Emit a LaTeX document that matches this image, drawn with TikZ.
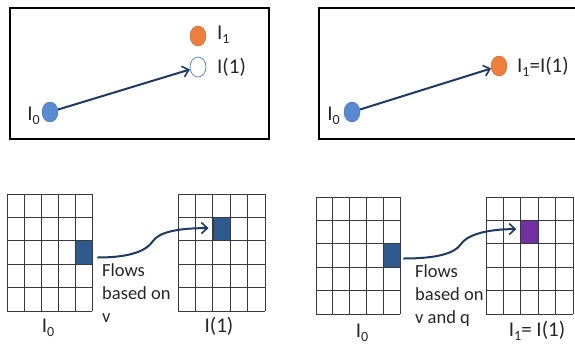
\documentclass[tikz,border=0pt]{standalone}
\usepackage{fontspec}
\setmainfont{Carlito}
\usetikzlibrary{shapes.geometric,arrows.meta,calc}
\definecolor{navy}{HTML}{1F3A60}
\definecolor{dotblue}{HTML}{5A8AD2}
\definecolor{dotorange}{HTML}{EE7E3C}
\definecolor{cellblue}{HTML}{2E5A8E}
\definecolor{cellpurple}{HTML}{7030A0}
\definecolor{gridgray}{HTML}{3A3A3A}
\definecolor{txt}{HTML}{262626}
\newcommand{\mysub}[1]{\raisebox{-4pt}{\fontsize{14}{14}\selectfont #1}}
\tikzset{
  frame/.style={draw=black,line width=2pt},
  bluedot/.style={ellipse,minimum width=16pt,minimum height=20pt,inner sep=0pt,fill=dotblue,draw=dotblue!80!black,line width=0.4pt},
  orangedot/.style={ellipse,minimum width=16pt,minimum height=20pt,inner sep=0pt,fill=dotorange,draw=dotorange!80!black,line width=0.4pt},
  opendot/.style={ellipse,minimum width=16pt,minimum height=20pt,inner sep=0pt,fill=white,draw=dotblue,line width=0.8pt},
  lbl/.style={text=txt,font=\fontsize{21}{24}\selectfont,inner sep=0pt},
  flowtxt/.style={text=txt,font=\fontsize{18.5}{23}\selectfont,align=left,inner sep=0pt,anchor=north west},
  conn/.style={draw=navy,line width=2pt,-{Straight Barb[length=6pt,width=11pt,line width=1.6pt]}},
  gridline/.style={draw=gridgray,line width=0.9pt},
  cell/.style={rectangle,inner sep=0pt,draw=gridgray,line width=0.9pt},
}
\begin{document}
\begin{tikzpicture}[x=1pt,y=-1pt]
\useasboundingbox (0,0) rectangle (575,348);
\clip (0,0) rectangle (575,348);
% ---------- top left panel ----------
\draw[frame] (9.5,7.5) rectangle (269,139);
\node[bluedot] (a0) at (50,112) {};
\node[lbl,anchor=east] (a0l) at (40,116) {I\mysub{0}};
\node[orangedot] (a1) at (198,36) {};
\node[lbl,anchor=west] (a1l) at (217,35) {I\mysub{1}};
\node[opendot] (a2) at (198,67) {};
\node[lbl,anchor=west] (a2l) at (217,67) {I(1)};
\draw[conn] (a0) -- (a2);
% ---------- top right panel ----------
\draw[frame] (319,7.5) rectangle (580,139);
\node[bluedot] (b0) at (352,112) {};
\node[lbl,anchor=east] (b0l) at (340,116) {I\mysub{0}};
\node[orangedot] (b1) at (499,66) {};
\node[lbl,anchor=west] (b1l) at (517,67) {I\mysub{1}=I(1)};
\draw[conn] (b0) -- (b1);
% ---------- bottom left grids ----------
\foreach \i in {0,...,5} {
  \draw[gridline] ({7+17*\i},194) -- ({7+17*\i},311);
  \draw[gridline] (7,{194+23.4*\i}) -- (92,{194+23.4*\i});
  \draw[gridline] ({178+17.4*\i},194) -- ({178+17.4*\i},311);
  \draw[gridline] (178,{194+23.4*\i}) -- (265,{194+23.4*\i});
}
\node[cell,fill=cellblue,minimum width=17pt,minimum height=23.4pt] (c1) at (83.5,252.5) {};
\node[cell,fill=cellblue,minimum width=17.4pt,minimum height=23.4pt] (c2) at (221.7,229.1) {};
\node[lbl] (c1l) at (48,328) {I\mysub{0}};
\node[lbl] (c2l) at (219,326) {I(1)};
\coordinate (cm) at (153,241);
\draw[conn] ($(c1.east)+(5,5)$) .. controls +(35,0) and +(-6,9) .. (cm)
  .. controls +(6,-9) and +(-30,0) .. ($(c2.west)+(-4,-1)$);
\node[flowtxt] (c1t) at (102,263) {Flows\\based on\\v};
% ---------- bottom right grids ----------
\foreach \i in {0,...,5} {
  \draw[gridline] ({316+16.8*\i},197) -- ({316+16.8*\i},314);
  \draw[gridline] (316,{197+23.4*\i}) -- (400,{197+23.4*\i});
  \draw[gridline] ({486+17.4*\i},197) -- ({486+17.4*\i},314);
  \draw[gridline] (486,{197+23.4*\i}) -- (573,{197+23.4*\i});
}
\node[cell,fill=cellblue,minimum width=16.8pt,minimum height=23.4pt] (d1) at (391.6,255.5) {};
\node[cell,fill=cellpurple,minimum width=17.4pt,minimum height=23.4pt] (d2) at (529.5,232.1) {};
\node[lbl] (d1l) at (362,333) {I\mysub{0}};
\node[lbl] (d2l) at (537,331) {I\mysub{1}= I(1)};
\coordinate (dm) at (461,244);
\draw[conn] ($(d1.east)+(3,3)$) .. controls +(35,0) and +(-6,9) .. (dm)
  .. controls +(6,-9) and +(-30,0) .. ($(d2.west)+(-4,-3)$);
\node[flowtxt] (d1t) at (415,264) {Flows\\based on\\v and q};
\end{tikzpicture}
\end{document}
